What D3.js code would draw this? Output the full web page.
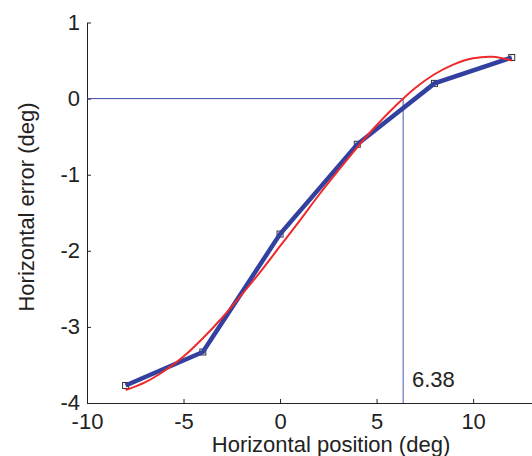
<!DOCTYPE html>
<html><head><meta charset="utf-8">
<script src="https://cdn.jsdelivr.net/npm/d3@7"></script>
<style>
html,body{margin:0;padding:0;background:#fff;}
svg{display:block;font-family:"Liberation Sans",Arial,Helvetica,sans-serif;}
</style></head>
<body><svg id="chart" width="532" height="456"></svg>
<script>
// measured data
const posX = [-8, -4, 0, 4, 8, 12];
const errY = [-3.77, -3.33, -1.78, -0.60, 0.20, 0.54];
// fitted curve
const fitX = [-8, -7, -6, -5, -4, -3, -2, -1, 0, 1, 2, 3, 4, 5, 6, 7, 8, 9, 10, 11, 12];
const fitY = [-3.83, -3.73, -3.58, -3.39, -3.15, -2.88, -2.58, -2.27, -1.94, -1.61, -1.27, -0.95, -0.64, -0.35, -0.09, 0.14, 0.32, 0.45, 0.53, 0.55, 0.50];
const xTicks = [-10, -5, 0, 5, 10];
const yTicks = [1, 0, -1, -2, -3, -4];
const zeroCross = 6.38;
const xLabel = "Horizontal position (deg)";
const yLabel = "Horizontal error (deg)";

const FS = 22;
const svg = d3.select("#chart");
const x = d3.scaleLinear().domain([-10, 13.05]).range([87, 532]);
const y = d3.scaleLinear().domain([-4, 1]).range([403, 22.5]);
const ink = "#222";

// axes
const gx = svg.append("g").attr("transform", `translate(0,${y(-4)})`)
  .call(d3.axisBottom(x).tickValues(xTicks).tickSizeInner(-4).tickSizeOuter(0).tickPadding(10).tickFormat(d3.format("d")));
const gy = svg.append("g").attr("transform", `translate(${x(-10)},0)`)
  .call(d3.axisLeft(y).tickValues(yTicks).tickSizeInner(-4).tickSizeOuter(0).tickPadding(7).tickFormat(d3.format("d")));
[gx, gy].forEach(g => {
  g.select(".domain").attr("stroke", ink).attr("stroke-width", 1);
  g.selectAll(".tick line").attr("stroke", ink);
  g.selectAll(".tick text").attr("fill", ink).attr("font-size", FS)
    .attr("font-family", '"Liberation Sans",Arial,sans-serif')
    .text(d => d < 0 ? "-" + Math.abs(d) : d);
});
gx.selectAll(".tick text").attr("y", 0).attr("dy", 0).attr("transform", "translate(0,25.5)");
gy.selectAll(".tick text").attr("dy", "0.3em");

// reference lines
svg.append("line").attr("x1", x(-10)).attr("x2", x(zeroCross)).attr("y1", y(0)).attr("y2", y(0))
  .attr("stroke", "#4048a8").attr("stroke-width", 1);
svg.append("line").attr("x1", x(zeroCross)).attr("x2", x(zeroCross)).attr("y1", y(0)).attr("y2", y(-4))
  .attr("stroke", "#8a8fcc").attr("stroke-width", 1.5);

// markers
svg.append("g").selectAll("rect").data(posX).join("rect")
  .attr("x", (d) => x(d) - 3).attr("y", (d, i) => y(errY[i]) - 3)
  .attr("width", 6).attr("height", 6).attr("fill", "#fff").attr("stroke", "#333").attr("stroke-width", 1);

// data line
const line = d3.line().x(d => x(d[0])).y(d => y(d[1]));
svg.append("path").datum(posX.map((d, i) => [d, errY[i]]))
  .attr("d", line).attr("fill", "none").attr("stroke", "#3240a0").attr("stroke-width", 4.5)
  .attr("stroke-linejoin", "miter");

// fit curve
const curve = d3.line().x(d => x(d[0])).y(d => y(d[1])).curve(d3.curveCatmullRom);
svg.append("path").datum(fitX.map((d, i) => [d, fitY[i]]))
  .attr("d", curve).attr("fill", "none").attr("stroke", "#ee2a2a").attr("stroke-width", 2);

// annotation
svg.append("text").attr("x", 412).attr("y", 387).attr("font-size", FS).attr("fill", ink).text(zeroCross.toFixed(2));

// axis titles
svg.append("text").attr("x", 331).attr("y", 452).attr("text-anchor", "middle")
  .attr("font-size", FS).attr("fill", ink).text(xLabel);
svg.append("text").attr("transform", "translate(34,207) rotate(-90)").attr("text-anchor", "middle")
  .attr("font-size", FS).attr("fill", ink).text(yLabel);
</script></body></html>
